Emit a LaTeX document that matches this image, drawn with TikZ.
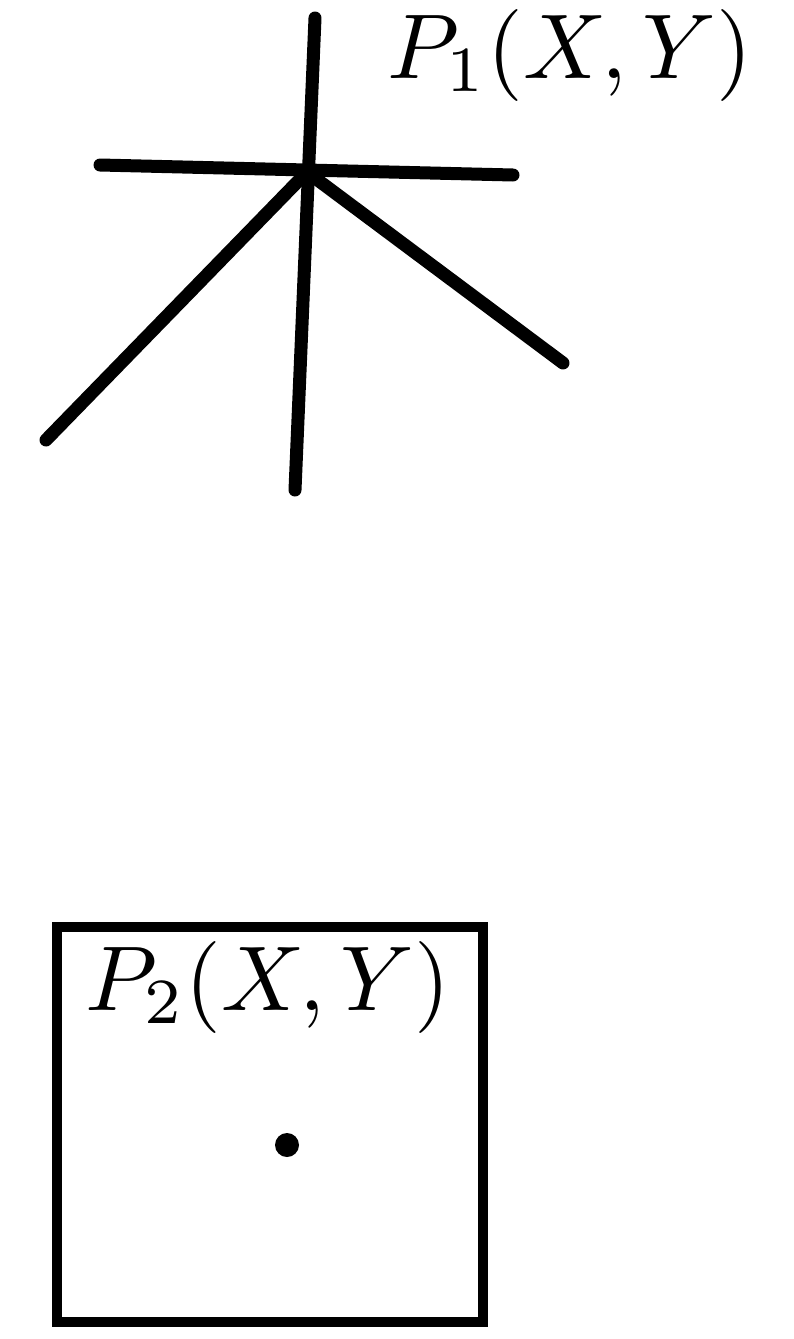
\documentclass[tikz,border=0pt]{standalone}
\begin{document}
\begin{tikzpicture}[x=1pt,y=-1pt,
  stroke/.style={line width=13pt,line cap=round},
  frame/.style={line width=10pt},
  lbl/.style={scale=9.2,inner sep=0pt}]
\useasboundingbox (0,0) rectangle (793,1339);
% star marker
\coordinate (c) at (307,172);
\coordinate (top) at (315,18);
\coordinate (bot) at (295,490);
\coordinate (lft) at (100,165);
\coordinate (rgt) at (513,175);
\coordinate (dl) at (46,440);
\coordinate (dr) at (563,363);
\draw[stroke] (top) -- (bot);
\draw[stroke] (lft) -- (rgt);
\draw[stroke] (c) -- (dl);
\draw[stroke] (c) -- (dr);
\node[lbl] (p1) at (570,55) {$P_1(X,Y)$};
% square marker
\draw[frame] (57,927) rectangle (483,1322);
\node[lbl] (p2) at (268,987) {$P_2(X,Y)$};
\fill (287,1145) circle (12pt);
\end{tikzpicture}
\end{document}
